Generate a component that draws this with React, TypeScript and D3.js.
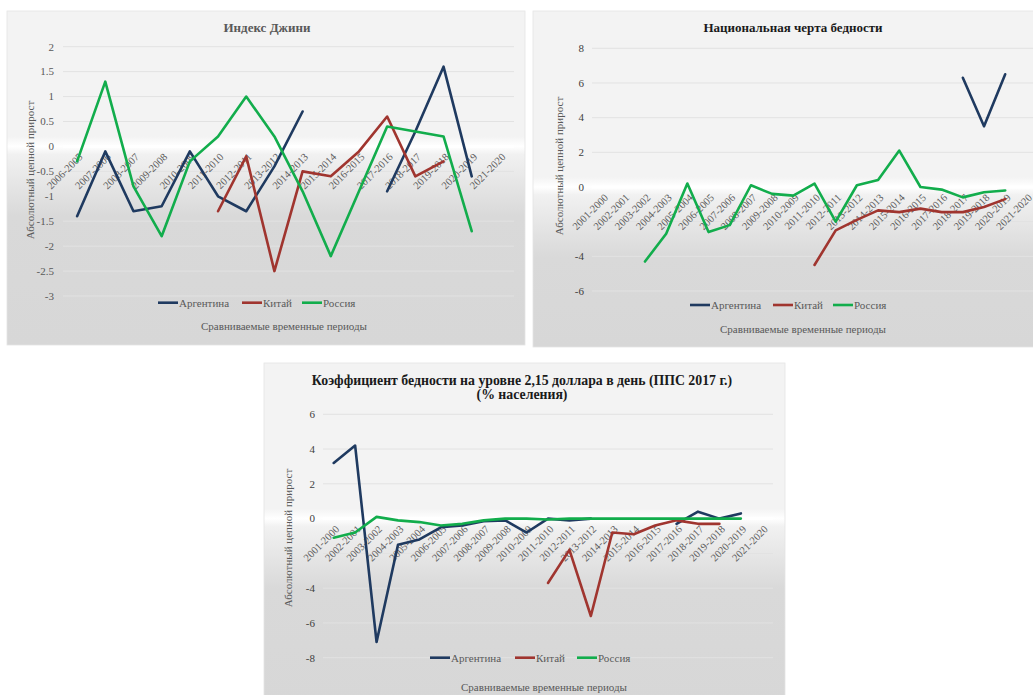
import React from 'react';
import * as d3 from 'd3';

// Индекс Джини
const giniPeriods = [
  '2006-2005', '2007-2006', '2008-2007', '2009-2008', '2010-2009', '2011-2010',
  '2012-2011', '2013-2012', '2014-2013', '2015-2014', '2016-2015', '2017-2016',
  '2018-2017', '2019-2018', '2020-2019', '2021-2020',
];
const giniArgentina = [-1.4, -0.1, -1.3, -1.2, -0.1, -1.0, -1.3, -0.4, 0.7, null, null, -0.9, 0.3, 1.6, -0.6, null];
const giniChina = [null, null, null, null, null, -1.3, -0.2, -2.5, -0.5, -0.6, -0.1, 0.6, -0.6, -0.3, null, null];
const giniRussia = [-0.3, 1.3, -0.8, -1.8, -0.3, 0.2, 1.0, 0.2, -0.9, -2.2, -0.9, 0.4, 0.3, 0.2, -1.7, null];
const giniTicks = [2, 1.5, 1, 0.5, 0, -0.5, -1, -1.5, -2, -2.5, -3];

// Национальная черта бедности
const povertyPeriods = [
  '2001-2000', '2002-2001', '2003-2002', '2004-2003', '2005-2004', '2006-2005',
  '2007-2006', '2008-2007', '2009-2008', '2010-2009', '2011-2010', '2012-2011',
  '2013-2012', '2014-2013', '2015-2014', '2016-2015', '2017-2016', '2018-2017',
  '2019-2018', '2020-2019', '2021-2020',
];
const natArgentina = [null, null, null, null, null, null, null, null, null, null, null, null, null, null, null, null, null, 6.3, 3.5, 6.5, null];
const natChina = [null, null, null, null, null, null, null, null, null, null, -4.5, -2.5, -1.9, -1.35, -1.45, -1.25, -1.45, -1.45, -1.15, -0.7, null];
const natRussia = [null, null, -4.3, -2.7, 0.2, -2.6, -2.2, 0.1, -0.4, -0.5, 0.2, -2.0, 0.1, 0.4, 2.1, 0, -0.15, -0.6, -0.3, -0.2, null];
const natTicks = [8, 6, 4, 2, 0, -2, -4, -6];
const natLabelTicks = [8, 6, 4, 2, 0, -4, -6];

// Коэффициент бедности 2,15 $
const pppArgentina = [3.2, 4.2, -7.1, -1.5, -1.2, -0.5, -0.4, -0.15, -0.1, -0.8, 0, -0.1, 0, null, null, null, -0.3, 0.4, 0, 0.3, null];
const pppChina = [null, null, null, null, null, null, null, null, null, null, -3.7, -1.8, -5.6, -0.8, -0.9, -0.4, -0.1, -0.3, -0.3, null, null];
const pppRussia = [-1.1, -0.8, 0.1, -0.1, -0.2, -0.4, -0.3, -0.1, 0, 0, -0.05, 0, 0, 0, 0, 0, 0, 0, 0, 0, null];
const pppTicks = [6, 4, 2, 0, -2, -4, -6, -8];
const pppLabelTicks = [6, 4, 2, 0, -4, -6, -8];

const countryNames = ['Аргентина', 'Китай', 'Россия'];
const colors = ['#1f3a60', '#a0352f', '#12ad4c'];

const font = "'Liberation Serif', 'Times New Roman', 'DejaVu Serif', serif";

type Val = number | null;

interface ChartProps {
  id: string;
  panel: [number, number, number, number];
  plot: [number, number, number, number]; // left, right, top, bottom
  domain: [number, number];
  categories: string[];
  values: Val[][];
  gridTicks: number[];
  labelTicks: number[];
  tickX: number;
  tickColor: string;
  title: string[];
  titleSize: number;
  titleX: number;
  titleY: number[];
  titleColor: string;
  yTitle: [number, number];
  legend: { y: number; x: number[] };
  xTitle: [number, number];
}

const LineChart: React.FC<ChartProps> = (p) => {
  const [px, py, pw, ph] = p.panel;
  const [left, right, top, bottom] = p.plot;
  const x = d3.scalePoint<string>().domain(p.categories).range([left, right]).padding(0.5);
  const y = d3.scaleLinear().domain(p.domain).range([bottom, top]);
  const zero = y(0);
  const off = (v: number) => Math.max(0, Math.min(1, (v - py) / ph));
  const line = d3.line<Val>()
    .defined((d) => d != null)
    .x((_, i) => x(p.categories[i]) as number)
    .y((d) => y(d as number));

  return (
    <g fontFamily={font}>
      <defs>
        <linearGradient id={`bg-${p.id}`} x1="0" y1="0" x2="0" y2="1">
          <stop offset={0} stopColor="#f3f3f3" />
          <stop offset={off(zero - 10)} stopColor="#f3f3f3" />
          <stop offset={off(zero)} stopColor="#ffffff" />
          <stop offset={off(zero + 8)} stopColor="#f1f1f1" />
          <stop offset={off(zero + 70)} stopColor="#d9d9d9" />
          <stop offset={1} stopColor="#d7d7d7" />
        </linearGradient>
      </defs>
      <rect x={px} y={py} width={pw} height={ph} fill={`url(#bg-${p.id})`} stroke="#e4e4e4" strokeWidth={0.8} />

      {p.gridTicks.filter((t) => t !== 0).map((t) => (
        <line key={t} x1={left} x2={right} y1={y(t)} y2={y(t)} stroke="#e2e2e2" strokeWidth={1} />
      ))}
      <line x1={left} x2={right} y1={zero} y2={zero} stroke="#ffffff" strokeWidth={3} />

      {p.labelTicks.map((t) => (
        <text key={t} x={p.tickX} y={y(t)} dy="0.35em" textAnchor="end" fontSize={11} fill={p.tickColor} fontFamily={font}>
          {t}
        </text>
      ))}

      {p.categories.map((c) => (
        <text
          key={c}
          transform={`translate(${(x(c) as number) + 4},${zero + 9}) rotate(-45)`}
          textAnchor="end"
          dy="0.3em"
          fontSize={10.5}
          fill="#595959"
          fontFamily={font}
        >
          {c}
        </text>
      ))}

      {p.values.map((vals, i) => (
        <path key={i} d={line(vals) || ''} fill="none" stroke={colors[i]} strokeWidth={2.6} strokeLinejoin="round" strokeLinecap="round" />
      ))}

      {p.title.map((t, i) => (
        <text key={i} x={p.titleX} y={p.titleY[i]} textAnchor="middle" fontSize={p.titleSize} fontWeight="bold" fill={p.titleColor} fontFamily={font}>
          {t}
        </text>
      ))}

      <text
        transform={`translate(${p.yTitle[0]},${p.yTitle[1]}) rotate(-90)`}
        textAnchor="middle"
        fontSize={11}
        fill="#595959"
        fontFamily={font}
      >
        Абсолютный цепной прирост
      </text>

      {countryNames.map((n, i) => (
        <g key={n}>
          <line x1={p.legend.x[i]} x2={p.legend.x[i] + 20} y1={p.legend.y} y2={p.legend.y} stroke={colors[i]} strokeWidth={2.6} />
          <text x={p.legend.x[i] + 21} y={p.legend.y} dy="0.35em" fontSize={11} fill="#595959" fontFamily={font}>
            {n}
          </text>
        </g>
      ))}

      <text x={p.xTitle[0]} y={p.xTitle[1]} textAnchor="middle" fontSize={11} fill="#595959" fontFamily={font}>
        Сравниваемые временные периоды
      </text>
    </g>
  );
};

export default function App() {
  return (
    <div style={{ position: 'absolute', left: 0, top: 0, width: 1033, height: 695, overflow: 'hidden', background: '#fff' }}>
      <svg width={1033} height={695} style={{ display: 'block' }} fontFamily={font}>
        <LineChart
          id="gini"
          panel={[7, 11, 518, 334]}
          plot={[63, 514, 46.7, 296]}
          domain={[-3, 2]}
          categories={giniPeriods}
          values={[giniArgentina, giniChina, giniRussia]}
          gridTicks={giniTicks}
          labelTicks={giniTicks}
          tickX={54}
          tickColor="#595959"
          title={['Индекс Джини']}
          titleSize={13}
          titleX={267}
          titleY={[32]}
          titleColor="#595959"
          yTitle={[34, 170]}
          legend={{ y: 302.7, x: [158, 242, 302] }}
          xTitle={[284, 330]}
        />
        <LineChart
          id="nat"
          panel={[533, 11, 510, 336]}
          plot={[592, 1037, 48.3, 291]}
          domain={[-6, 8]}
          categories={povertyPeriods}
          values={[natArgentina, natChina, natRussia]}
          gridTicks={natTicks}
          labelTicks={natLabelTicks}
          tickX={584}
          tickColor="#404040"
          title={['Национальная черта бедности']}
          titleSize={13}
          titleX={793}
          titleY={[32]}
          titleColor="#1a1a1a"
          yTitle={[563, 166]}
          legend={{ y: 305, x: [690, 773, 833] }}
          xTitle={[803, 333]}
        />
        <LineChart
          id="ppp"
          panel={[264, 363, 521, 340]}
          plot={[323, 773, 414.3, 657.7]}
          domain={[-8, 6]}
          categories={povertyPeriods}
          values={[pppArgentina, pppChina, pppRussia]}
          gridTicks={pppTicks}
          labelTicks={pppLabelTicks}
          tickX={315}
          tickColor="#404040"
          title={['Коэффициент бедности на уровне 2,15 доллара в день (ППС 2017 г.)', '(% населения)']}
          titleSize={13.8}
          titleX={522}
          titleY={[385, 399]}
          titleColor="#1a1a1a"
          yTitle={[292, 538]}
          legend={{ y: 657.7, x: [430, 515, 577] }}
          xTitle={[544, 691]}
        />
      </svg>
    </div>
  );
}
